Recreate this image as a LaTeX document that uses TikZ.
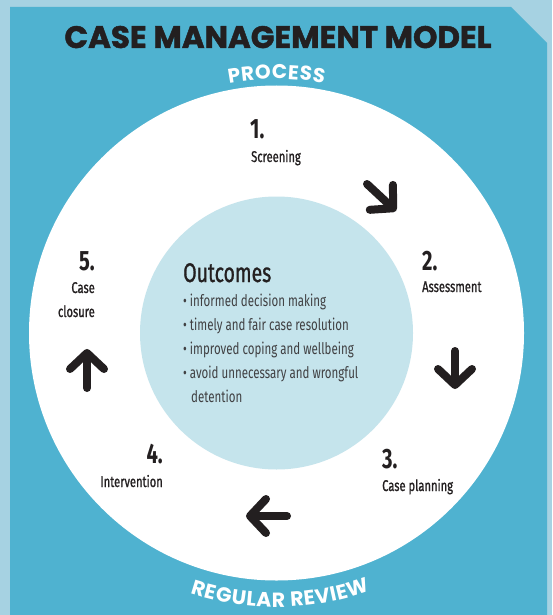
\documentclass[tikz,border=0pt]{standalone}
\usepackage{fontspec}
\usetikzlibrary{arrows.meta,decorations.text}
\newfontfamily\titlefont[BoldFeatures={FakeBold=1.5}]{Poppins}
\newfontfamily\arcfont{Poppins}
\newfontfamily\condfont[FakeStretch=0.72]{Fira Sans}
\newfontfamily\condmed[FakeStretch=0.72,FakeBold=1]{Fira Sans}
\definecolor{edgeblue}{RGB}{166,210,226}
\definecolor{panelblue}{RGB}{79,178,208}
\definecolor{coreblue}{RGB}{197,228,236}
\definecolor{inkblack}{RGB}{35,31,32}
\definecolor{listgray}{RGB}{64,64,66}
\tikzset{%
    steptitle/.style={inkblack,inner sep=0pt,font=\condfont\bfseries\fontsize{28}{28}\selectfont},%
    steplabel/.style={inkblack,inner sep=0pt,font=\condmed\fontsize{15.5}{15.5}\selectfont},%
    listline/.style={listgray,inner sep=0pt,anchor=base west,font=\condfont\fontsize{16}{16}\selectfont},%
    cyclearrow/.style={inkblack,line width=8pt,line cap=round,%
        -{Straight Barb[length=16pt,width=34pt,line cap=round,line join=round]}},%
    arctext/.style 2 args={decorate,decoration={text effects along path,text={#2},text align=center,%
            text effects/.cd,text along path,%
            character widths={inner xsep=0.3pt,font=\arcfont\bfseries\fontsize{#1}{#1}\selectfont},%
            characters={text=white,font=\arcfont\bfseries\fontsize{#1}{#1}\selectfont}}}%
}
\begin{document}
\begin{tikzpicture}[x=1pt,y=-1pt]
    \useasboundingbox (0,0) rectangle (552,615);
    % background and panel
    \fill[edgeblue] (0,0) rectangle (552,615);
    \fill[panelblue] (10,7) -- (511,7) -- (547,43) -- (547,615) -- (10,615) -- cycle;
    \node[inkblack,inner sep=0pt,anchor=base,font=\titlefont\bfseries\fontsize{31}{31}\selectfont]
        (title) at (278,48) {CASE MANAGEMENT MODEL};
    % the two discs
    \node[circle,fill=white,minimum size=495pt,inner sep=0pt] (ring) at (276.5,333) {};
    \node[circle,fill=coreblue,minimum size=273pt,inner sep=0pt] (core) at (ring.center) {};
    % arched words
    \path[arctext={20}{PROCESS}] ([shift={(240:254)}]ring.center) arc[start angle=240,end angle=300,radius=254];
    \path[arctext={20.5}{REGULAR REVIEW}] ([shift={(124.2:274)}]ring.center) arc[start angle=124.2,end angle=54.2,radius=274];
    % outcomes
    \node[inkblack,inner sep=0pt,anchor=base west,font=\condmed\fontsize{27}{27}\selectfont]
        (outc) at (183,282) {Outcomes};
    \node[listline] (o1) at (183,306) {\textbullet\ informed decision making};
    \node[listline] (o2) at (183,330) {\textbullet\ timely and fair case resolution};
    \node[listline] (o3) at (183,354) {\textbullet\ improved coping and wellbeing};
    \node[listline] (o4) at (183,378) {\textbullet\ avoid unnecessary and wrongful};
    \node[listline] (o5) at (191,402) {detention};
    % steps
    \node[steptitle,anchor=base west] (n1) at (250,138) {1.};
    \node[steplabel,anchor=base west] (s1) at (251,162) {Screening};
    \node[steptitle,anchor=base west] (n2) at (422,270) {2.};
    \node[steplabel,anchor=base west] (s2) at (422,292) {Assessment};
    \node[steptitle,anchor=base west] (n3) at (382,468) {3.};
    \node[steplabel,anchor=base west] (s3) at (382,491) {Case planning};
    \node[steptitle,anchor=base east] (n4) at (163,463) {4.};
    \node[steplabel,anchor=base east] (s4) at (163,487) {Intervention};
    \node[steptitle,anchor=base east] (n5) at (95,270) {5.};
    \node[steplabel,anchor=base east] (s5a) at (95,293) {Case};
    \node[steplabel,anchor=base east] (s5b) at (95,317) {closure};
    % arrows between the steps
    \coordinate (a1s) at (367,184);
    \coordinate (a1e) at (396,211);
    \coordinate (a2s) at (455,351);
    \coordinate (a2e) at (455,389);
    \coordinate (a3s) at (287,516);
    \coordinate (a3e) at (246,516);
    \coordinate (a4s) at (87,388);
    \coordinate (a4e) at (87,349);
    \draw[cyclearrow] (a1s) -- (a1e);
    \draw[cyclearrow] (a2s) -- (a2e);
    \draw[cyclearrow] (a3s) -- (a3e);
    \draw[cyclearrow] (a4s) -- (a4e);
\end{tikzpicture}
\end{document}
